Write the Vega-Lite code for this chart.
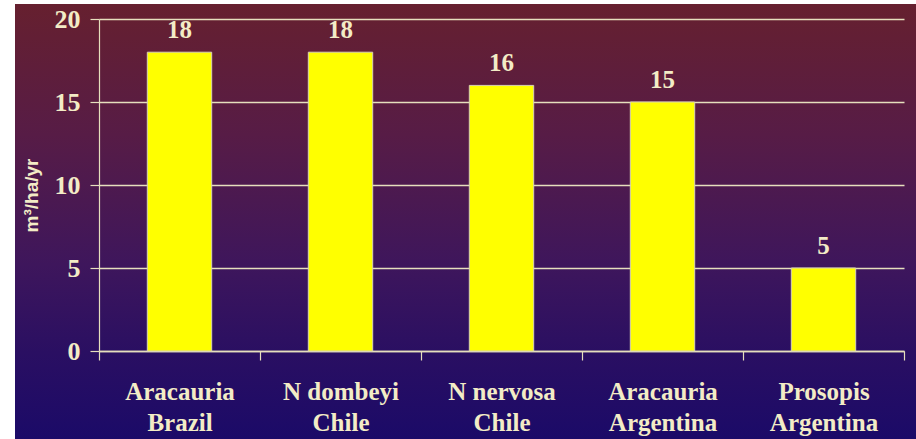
{
  "$schema": "https://vega.github.io/schema/vega-lite/v6.json",
  "width": 901,
  "height": 435,
  "autosize": {"type": "none"},
  "padding": {"left": 15, "top": 4, "right": 0, "bottom": 0},
  "background": "#ffffff",
  "config": {
    "view": {
      "stroke": null,
      "fill": {"gradient": "linear", "x1": 0, "y1": 0, "x2": 0, "y2": 1, "stops": [
        {"offset": 0, "color": "#66202f"},
        {"offset": 0.3, "color": "#571c46"},
        {"offset": 0.6, "color": "#3e165c"},
        {"offset": 0.8, "color": "#2a0f62"},
        {"offset": 1, "color": "#1b0a68"}
      ]}
    },
    "axis": {"labelColor": "#f3ecc6", "tickColor": "#e6dfbd", "domainColor": "#e6dfbd", "titleColor": "#f3ecc6"}
  },
  "data": {
    "values": [
      {"site": "Aracauria\nBrazil", "value": 18},
      {"site": "N dombeyi\nChile", "value": 18},
      {"site": "N nervosa\nChile", "value": 16},
      {"site": "Aracauria\nArgentina", "value": 15},
      {"site": "Prosopis\nArgentina", "value": 5}
    ]
  },
  "encoding": {
    "x": {
      "field": "site",
      "type": "nominal",
      "sort": null,
      "scale": {"range": [84, 889], "paddingInner": 0, "paddingOuter": 0},
      "axis": {
        "title": null,
        "offset": -88,
        "labelAngle": 0,
        "labelExpr": "split(datum.label, '\\n')",
        "labelFont": "Liberation Serif",
        "labelFontWeight": "bold",
        "labelFontSize": 25,
        "labelLineHeight": 31,
        "labelPadding": 19,
        "labelBaseline": "top",
        "tickBand": "extent",
        "tickSize": 9,
        "tickWidth": 1.2,
        "domainWidth": 1.5,
        "grid": false
      }
    },
    "y": {
      "field": "value",
      "type": "quantitative",
      "scale": {"domain": [0, 20], "range": [347, 15]},
      "axis": {
        "values": [0, 5, 10, 15, 20],
        "offset": -84,
        "title": "m³/ha/yr",
        "titleFont": "Liberation Sans",
        "titleFontWeight": "bold",
        "titleFontSize": 19,
        "titleY": 191,
        "titlePadding": 13,
        "labelFont": "Liberation Serif",
        "labelFontWeight": "bold",
        "labelFontSize": 26,
        "labelPadding": 10,
        "tickSize": 9,
        "tickWidth": 1.2,
        "domainWidth": 1.2,
        "grid": true,
        "gridColor": "#e6dfbd",
        "gridWidth": 1.5,
        "gridOpacity": 1
      }
    }
  },
  "layer": [
    {
      "mark": {"type": "bar", "width": {"band": 0.4}, "color": "#ffff00", "stroke": "#d8d2b4", "strokeWidth": 1}
    },
    {
      "mark": {"type": "text", "baseline": "alphabetic", "dy": -14, "font": "Liberation Serif", "fontWeight": "bold", "fontSize": 25, "color": "#f3ecc6"},
      "encoding": {"text": {"field": "value", "type": "quantitative"}}
    }
  ]
}
